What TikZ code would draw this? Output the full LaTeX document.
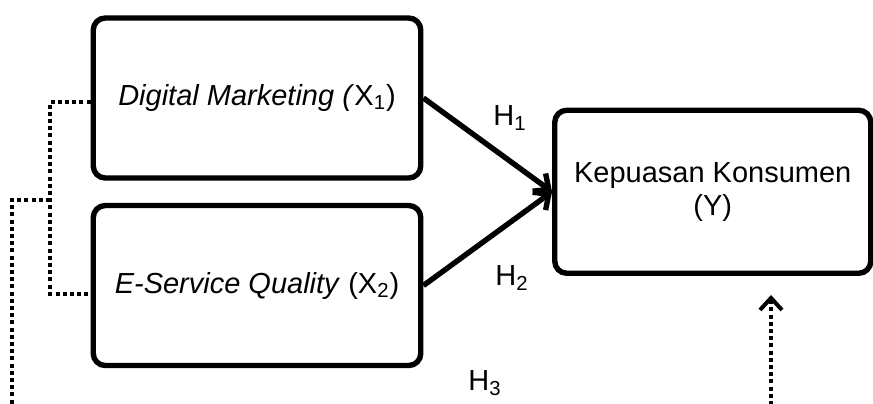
\documentclass[tikz,border=0pt]{standalone}
\usepackage{fontspec}
\setmainfont{Liberation Sans}
\usepackage{tikz}
\usetikzlibrary{arrows.meta,positioning}

\begin{document}
\begin{tikzpicture}[x=0.5pt,y=-0.5pt]
\tikzstyle{every node}=[font=\fontsize{14.5}{16.5}\selectfont, inner sep=0pt]
\tikzstyle{var}=[draw, line width=2.7pt, rounded corners=6pt,
                 minimum width=163.75pt, minimum height=80pt, align=center]
\tikzstyle{hyp}=[]
\tikzstyle{path}=[line width=2.7pt, -{Straight Barb[length=6pt,width=11pt]}]
\tikzstyle{dotline}=[line width=2pt, dash pattern=on 2pt off 1.6pt]
\useasboundingbox (0,0) rectangle (873,403);
\node[var] (dm) at (257,98){\textit{Digital Marketing (}X\textsubscript{1})};
\node[var] (es) at (257,285.5){\textit{E-Service Quality} (X\textsubscript{2})};
\node[var, minimum width=158pt, minimum height=81.5pt] (ky) at (712.75,191.75){Kepuasan Konsumen\\(Y)};
\node[hyp] (h1) at (510,118){H\textsubscript{1}};
\node[hyp] (h2) at (512,278){H\textsubscript{2}};
\node[hyp] (h3) at (485,383){H\textsubscript{3}};
\coordinate (j1) at (50,200);
\coordinate (l1) at (12,200);
\coordinate (l2) at (12,405);
\coordinate (r1) at (771,405);
\coordinate (r2) at (771,295);
\foreach \i in {dm,es}{\draw[path] (\i.east) -- (ky.west);}
\draw[dotline] ([yshift=-2pt]dm.west) -| (j1) |- ([yshift=-4pt]es.west);
\draw[dotline] (j1) -- (l1) -- (l2);
\draw[dotline, -{Straight Barb[length=6pt,width=11pt]}] (r1) -- (r2);
\end{tikzpicture}
\end{document}
